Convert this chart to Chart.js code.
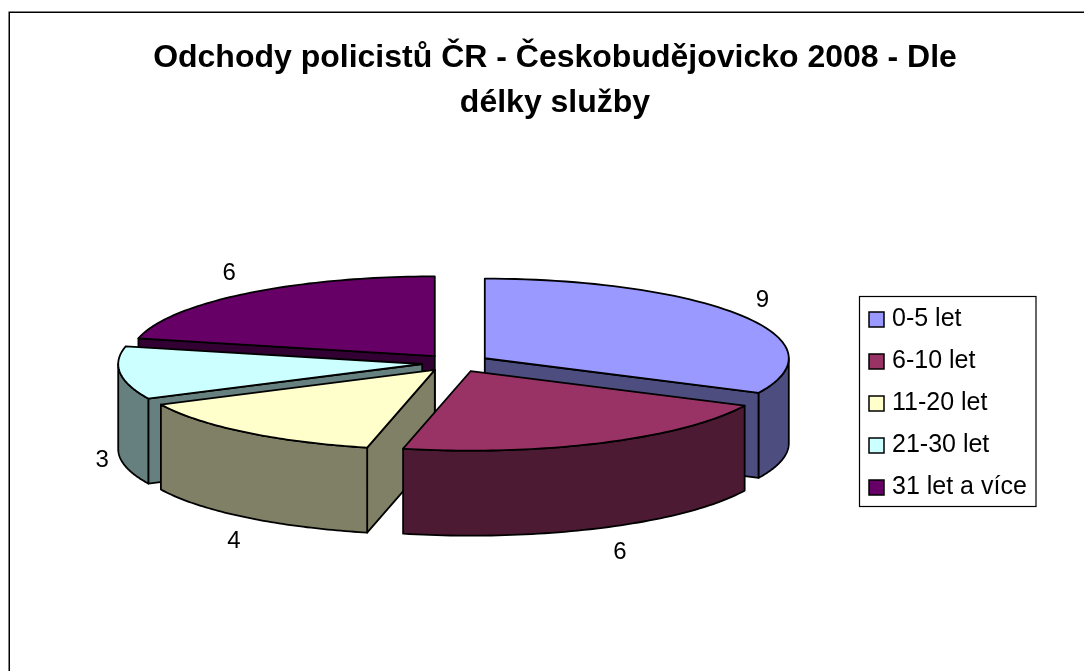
<!DOCTYPE html>
<html><head><meta charset="utf-8">
<style>html,body{margin:0;padding:0;background:#fff}canvas{display:block}</style>
<script src="https://cdn.jsdelivr.net/npm/chart.js@4/dist/chart.umd.js"></script>
</head><body>
<canvas id="c" width="1084" height="671" style="width:1084px;height:671px"></canvas>
<script>
const categories = ['0-5 let','6-10 let','11-20 let','21-30 let','31 let a více'];
const values = [9,6,4,3,6];
const topColors = ['#9999FF','#993366','#FFFFCC','#CCFFFF','#660066'];
const wallColors = ['#4D4D80','#4D1A33','#808066','#668080','#330033'];
const titleLines = ['Odchody policistů ČR - Českobudějovicko 2008 - Dle','délky služby'];
const FONT = '"Liberation Sans", Arial, sans-serif';

const CX=456, CY=363, K=0.262, DROP=85, RADIUS=304, EXPLODE=34;
const drawOrder=[4,0,3,2,1];
const labelRx=[362,378,356,356,364], labelRy=[118,116,120,109,115];
const LEGEND_X=869, LEGEND_Y=307, SWATCH=15;

function proj(a,x,y,drop){
  return [CX+(x-a.x), CY+(y-a.y)*K+(drop||0)];
}
const pie3d={
  id:'pie3d',
  afterUpdate(chart){
    const l=chart.legend;
    const h=l.legendHitBoxes[0];
    const dx=LEGEND_X-h.left, dy=LEGEND_Y-h.top;
    l.left+=dx; l.right+=dx; l.top+=dy; l.bottom+=dy;
    l.legendHitBoxes.forEach(b=>{b.left+=dx;b.top+=dy;});
  },
  beforeDatasetDraw(chart){
    const ctx=chart.ctx, arcs=chart.getDatasetMeta(0).data;
    ctx.save();
    ctx.lineWidth=1.8; ctx.strokeStyle='#000'; ctx.lineJoin='round';
    const geo=a=>{
      const mid=(a.startAngle+a.endAngle)/2, ox=Math.cos(mid)*EXPLODE, oy=Math.sin(mid)*EXPLODE;
      return {s:a.startAngle,e:a.endAngle,ox,oy,
        pt:(t,d)=>proj(a,a.x+ox+Math.cos(t)*a.outerRadius,a.y+oy+Math.sin(t)*a.outerRadius,d),
        apex:d=>proj(a,a.x+ox,a.y+oy,d)};
    };
    const poly=(pts,fill)=>{
      ctx.beginPath(); pts.forEach((p,i)=>i?ctx.lineTo(p[0],p[1]):ctx.moveTo(p[0],p[1]));
      ctx.closePath(); ctx.fillStyle=fill; ctx.fill(); ctx.stroke();
    };
    const outline=g=>{
      ctx.beginPath();
      const A=g.apex(0); ctx.moveTo(A[0],A[1]);
      const n=60;
      for(let i=0;i<=n;i++){const p=g.pt(g.s+(g.e-g.s)*i/n,0);ctx.lineTo(p[0],p[1]);}
      ctx.closePath();
    };
    drawOrder.forEach(i=>{
      const a=arcs[i], g=geo(a), wall=wallColors[i];
      if(Math.cos(g.s)<0) poly([g.apex(0),g.pt(g.s,0),g.pt(g.s,DROP),g.apex(DROP)],wall);
      if(Math.cos(g.e)>0) poly([g.apex(0),g.pt(g.e,0),g.pt(g.e,DROP),g.apex(DROP)],wall);
      const lo=Math.max(g.s,0), hi=Math.min(g.e,Math.PI);
      if(hi>lo){
        const pts=[],n=60;
        for(let k=0;k<=n;k++)pts.push(g.pt(lo+(hi-lo)*k/n,0));
        for(let k=n;k>=0;k--)pts.push(g.pt(lo+(hi-lo)*k/n,DROP));
        poly(pts,wall);
      }
      ctx.save();
      ctx.translate(CX,CY); ctx.scale(1,K); ctx.translate(g.ox-a.x,g.oy-a.y);
      a.draw(ctx);
      ctx.restore();
      outline(g); ctx.stroke();
    });
    ctx.fillStyle='#000'; ctx.font='24px '+FONT; ctx.textAlign='center'; ctx.textBaseline='middle';
    arcs.forEach((a,i)=>{
      const mid=(a.startAngle+a.endAngle)/2, sn=Math.sin(mid);
      ctx.fillText(String(values[i]),CX+Math.cos(mid)*labelRx[i],CY+sn*labelRy[i]+(sn>0?DROP:0));
    });
    ctx.restore();
    return false;
  },
  beforeDraw(chart){
    const ctx=chart.ctx; ctx.save();
    ctx.fillStyle='#fff'; ctx.fillRect(0,0,1084,671);
    ctx.strokeStyle='#000'; ctx.lineWidth=1.5;
    ctx.beginPath(); ctx.moveTo(9.25,671); ctx.lineTo(9.25,12.25); ctx.lineTo(1084,12.25); ctx.stroke();
    ctx.lineWidth=1.2; ctx.strokeRect(859.5,296.5,176.5,210);
    ctx.restore();
  },
  afterDraw(chart){
    const ctx=chart.ctx; ctx.save();
    ctx.strokeStyle='#000'; ctx.lineWidth=1.5;
    chart.legend.legendHitBoxes.forEach((b,i)=>{
      ctx.fillStyle=topColors[i];
      ctx.fillRect(b.left,b.top+5,SWATCH,SWATCH);
      ctx.strokeRect(b.left,b.top+5,SWATCH,SWATCH);
    });
    ctx.restore();
  }
};
new Chart(document.getElementById('c'),{
  type:'pie',
  data:{labels:categories,datasets:[{data:values,backgroundColor:topColors,borderWidth:0,borderColor:'#000',radius:RADIUS}]},
  plugins:[pie3d],
  options:{
    responsive:false,animation:false,devicePixelRatio:1,
    layout:{padding:{left:26,right:0,top:0,bottom:164}},
    plugins:{
      tooltip:{enabled:false},
      title:{display:true,text:titleLines,color:'#000',padding:{top:36,bottom:0},
        font:{family:FONT,size:32,weight:'bold',lineHeight:1.4}},
      legend:{display:true,position:'right',align:'center',
        labels:{color:'#000',font:{family:FONT,size:25},boxWidth:10.5,boxHeight:15,padding:17,
          generateLabels(chart){
            return categories.map((t,i)=>({text:t,fillStyle:topColors[i],strokeStyle:'#000',lineWidth:0,index:i,hidden:false}));
          }}}
    }
  }
});
</script>
</body></html>
